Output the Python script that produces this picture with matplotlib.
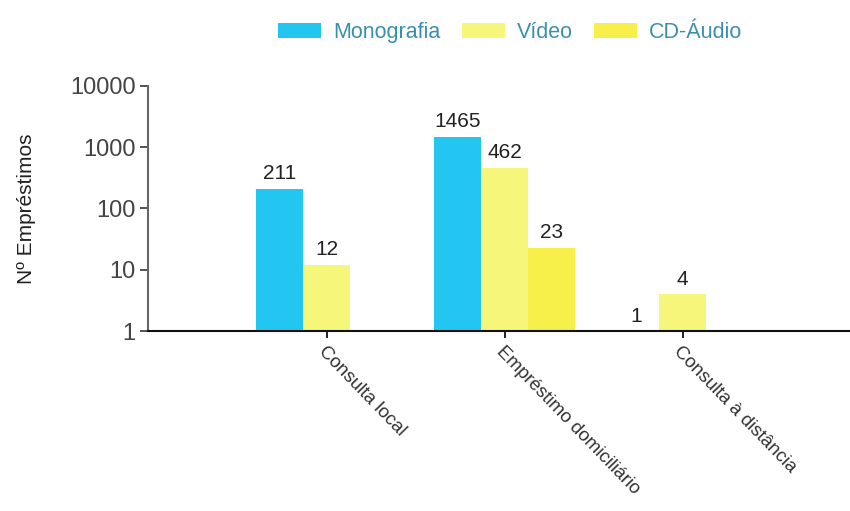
import numpy as np
import matplotlib
matplotlib.use('Agg')
import matplotlib.pyplot as plt

plt.rcParams['font.family'] = ['Liberation Sans', 'DejaVu Sans']

# data
categorias = ['Consulta local', 'Empréstimo domiciliário', 'Consulta à distância']
series = ['Monografia', 'Vídeo', 'CD-Áudio']
monografia = [211, 1465, 1]
video = [12, 462, 4]
cd_audio = [None, 23, None]
cores = ['#22C6F0', '#F6F67A', '#F8F04A']

fig = plt.figure(figsize=(8.5, 5.11), dpi=100)
ax = fig.add_axes([0.174, 0.352, 0.826, 0.48])

x = np.arange(len(categorias))
w = 0.264
for i, (nome, vals) in enumerate(zip(series, [monografia, video, cd_audio])):
    pos = x + (i - 1) * w
    alturas = [0 if v is None else v - 1 for v in vals]
    ax.bar(pos, alturas, w, bottom=1, color=cores[i], label=nome, zorder=2)
    for p, v in zip(pos, vals):
        if v is None:
            continue
        ax.annotate(str(v), (p, v), xytext=(0, 4), textcoords='offset points',
                    ha='center', va='bottom', fontsize=15, color='#222222')

ax.set_yscale('log')
ax.set_ylim(1, 10000)
ax.set_xlim(-1.006, 2.94)
ax.set_yticks([1, 10, 100, 1000, 10000])
ax.set_yticklabels(['1', '10', '100', '1000', '10000'])
ax.minorticks_off()
ax.tick_params(axis='y', labelsize=17, colors='#444444', length=6, width=1.3, pad=3)
ax.tick_params(axis='x', length=5, width=1.3, color='#111111')
ax.set_xticks(x)
ax.set_xticklabels(categorias, rotation=-46, ha='left', va='top',
                   rotation_mode='anchor', fontsize=13.5, color='#333333')
for s in ['top', 'right']:
    ax.spines[s].set_visible(False)
ax.spines['left'].set_color('#666666')
ax.spines['left'].set_linewidth(1.5)
ax.spines['bottom'].set_color('#111111')
ax.spines['bottom'].set_linewidth(1.5)
ax.set_ylabel('Nº Empréstimos', fontsize=15, color='#222222', labelpad=24)

fig.legend(loc='upper center', bbox_to_anchor=(0.6, 0.995), ncol=3,
           frameon=False, fontsize=15.5, handlelength=2.0, handleheight=0.75,
           handletextpad=0.55, columnspacing=1.0, labelcolor='#3a8fb0')

fig.savefig('out.png', dpi=100)
